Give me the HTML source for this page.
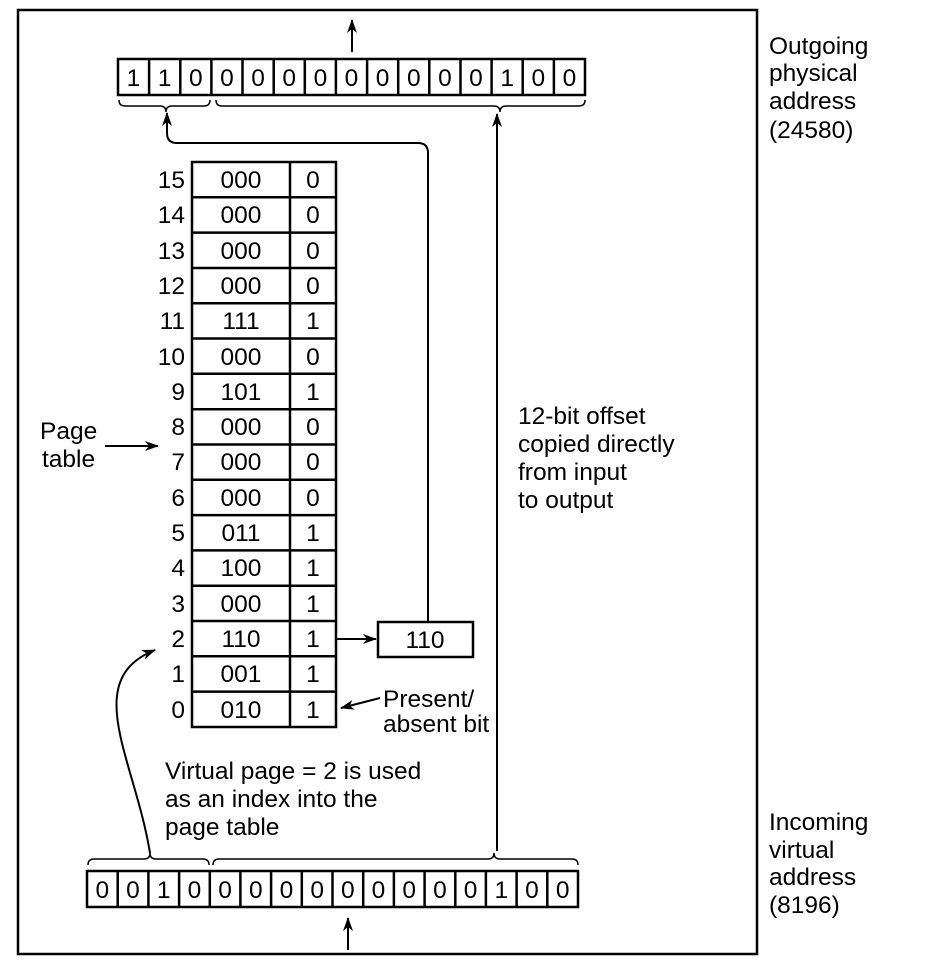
<!DOCTYPE html>
<html><head><style>html,body{margin:0;padding:0;background:#fff}</style></head>
<body>
<svg width="951" height="964" viewBox="0 0 951 964" xmlns="http://www.w3.org/2000/svg" font-family="Liberation Sans, sans-serif" font-size="24.5" fill="#000">
<defs><marker id="a" markerWidth="14" markerHeight="10" refX="13" refY="5" orient="auto" markerUnits="userSpaceOnUse"><path d="M0,0 L14,5 L0,10 L4,5 Z" fill="#000"/></marker></defs>
<rect x="18" y="10" width="739" height="944" fill="none" stroke="#000" stroke-width="2.5"/>
<g stroke="#000" stroke-width="2.5" fill="none">
<rect x="118" y="59" width="467" height="36"/>
<path d="M149.1,59v36M180.3,59v36M211.4,59v36M242.5,59v36M273.7,59v36M304.8,59v36M335.9,59v36M367.1,59v36M398.2,59v36M429.3,59v36M460.5,59v36M491.6,59v36M522.7,59v36M553.9,59v36"/>
<rect x="87" y="871" width="491" height="36"/>
<path d="M117.7,871v36M148.4,871v36M179.1,871v36M209.8,871v36M240.4,871v36M271.1,871v36M301.8,871v36M332.5,871v36M363.2,871v36M393.9,871v36M424.6,871v36M455.3,871v36M485.9,871v36M516.6,871v36M547.3,871v36"/>
<g stroke-width="1.5">
<path d="M119,100 q0,6 6,6 h35 q6,0 6,6 q0,-6 6,-6 h32 q6,0 6,-6"/>
<path d="M216,100 q0,6 6,6 h272 q6,0 6,6 q0,-6 6,-6 h73 q6,0 6,-6"/>
<path d="M88,865 q0,-6 6,-6 h50 q6,0 6,-6 q0,6 6,6 h47 q6,0 6,6"/>
<path d="M213,865 q0,-6 6,-6 h269 q6,0 6,-6 q0,6 6,6 h72 q6,0 6,6"/>
</g>
<rect x="192" y="162" width="144" height="565"/>
<path d="M290,162v565"/>
<path d="M192,197.3h144M192,232.6h144M192,268h144M192,303.2h144M192,338.5h144M192,373.8h144M192,409.2h144M192,444.5h144M192,479.8h144M192,515.1h144M192,550.4h144M192,585.7h144M192,621h144M192,656.3h144M192,691.6h144"/>
<rect x="378" y="622" width="95" height="35"/>
<g stroke-width="2">
<path d="M336,639H376" marker-end="url(#a)"/>
<path d="M428,622V153q0-10-10-10H177q-10,0-10-10V113" marker-end="url(#a)"/>
<path d="M497,851V114" marker-end="url(#a)"/>
<path d="M352,52V20" marker-end="url(#a)"/>
<path d="M348,950V918" marker-end="url(#a)"/>
<path d="M150,853 C135,760 80,680 155,650" marker-end="url(#a)"/>
<path d="M380,698L341,708" marker-end="url(#a)"/>
<path d="M105,446H158" marker-end="url(#a)"/>
</g>
</g>
<g text-anchor="middle">
<text x="133.5" y="86">1</text><text x="164.7" y="86">1</text><text x="195.8" y="86">0</text><text x="227" y="86">0</text><text x="258.1" y="86">0</text><text x="289.2" y="86">0</text><text x="320.4" y="86">0</text><text x="351.5" y="86">0</text><text x="382.6" y="86">0</text><text x="413.8" y="86">0</text><text x="444.9" y="86">0</text><text x="476" y="86">0</text><text x="507.2" y="86">1</text><text x="538.3" y="86">0</text><text x="569.4" y="86">0</text>
<text x="102.3" y="898">0</text><text x="133" y="898">0</text><text x="163.7" y="898">1</text><text x="194.4" y="898">0</text><text x="225.1" y="898">0</text><text x="255.8" y="898">0</text><text x="286.5" y="898">0</text><text x="317.2" y="898">0</text><text x="347.8" y="898">0</text><text x="378.5" y="898">0</text><text x="409.2" y="898">0</text><text x="439.9" y="898">0</text><text x="470.6" y="898">0</text><text x="501.3" y="898">1</text><text x="532" y="898">0</text><text x="562.7" y="898">0</text>
<text x="425" y="648">110</text>
</g>
<g>
<g text-anchor="end">
<text x="185" y="188">15</text><text x="185" y="223">14</text><text x="185" y="259">13</text><text x="185" y="294">12</text><text x="185" y="329">11</text><text x="185" y="365">10</text><text x="185" y="400">9</text><text x="185" y="435">8</text><text x="185" y="470">7</text><text x="185" y="506">6</text><text x="185" y="541">5</text><text x="185" y="576">4</text><text x="185" y="612">3</text><text x="185" y="647">2</text><text x="185" y="682">1</text><text x="185" y="718">0</text>
</g>
<g text-anchor="middle">
<text x="241" y="188">000</text><text x="241" y="223">000</text><text x="241" y="259">000</text><text x="241" y="294">000</text><text x="241" y="329">111</text><text x="241" y="365">000</text><text x="241" y="400">101</text><text x="241" y="435">000</text><text x="241" y="470">000</text><text x="241" y="506">000</text><text x="241" y="541">011</text><text x="241" y="576">100</text><text x="241" y="612">000</text><text x="241" y="647">110</text><text x="241" y="682">001</text><text x="241" y="718">010</text>
<text x="313" y="188">0</text><text x="313" y="223">0</text><text x="313" y="259">0</text><text x="313" y="294">0</text><text x="313" y="329">1</text><text x="313" y="365">0</text><text x="313" y="400">1</text><text x="313" y="435">0</text><text x="313" y="470">0</text><text x="313" y="506">0</text><text x="313" y="541">1</text><text x="313" y="576">1</text><text x="313" y="612">1</text><text x="313" y="647">1</text><text x="313" y="682">1</text><text x="313" y="718">1</text>
</g>
</g>
<text x="769" y="54">Outgoing</text><text x="769" y="81">physical</text><text x="769" y="109">address</text><text x="769" y="138">(24580)</text>
<text x="769" y="830">Incoming</text><text x="769" y="858">virtual</text><text x="769" y="885">address</text><text x="769" y="913">(8196)</text>
<text x="518" y="424">12-bit offset</text><text x="518" y="452">copied directly</text><text x="518" y="480">from input</text><text x="518" y="508">to output</text>
<text x="40" y="439">Page</text><text x="42" y="467">table</text>
<text x="383" y="707">Present/</text><text x="383" y="732">absent bit</text>
<text x="165" y="779">Virtual page = 2 is used</text><text x="165" y="807">as an index into the</text><text x="165" y="835">page table</text>
</svg>
</body></html>
